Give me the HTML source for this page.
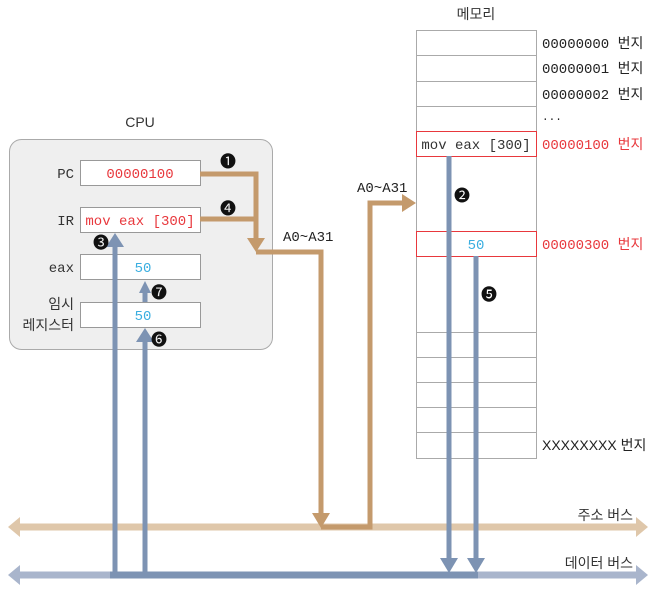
<!DOCTYPE html>
<html><head><meta charset="utf-8"><style>
body{margin:0;background:#fff;}
svg text{font-family:"Liberation Mono","Noto Sans CJK KR",monospace;}
.k{font-family:"Liberation Sans","Noto Sans CJK KR",sans-serif;}
</style></head><body>
<svg width="655" height="594" viewBox="0 0 655 594" xmlns="http://www.w3.org/2000/svg">
<!-- CPU -->
<text x="140" y="127" font-size="14" text-anchor="middle" class="k" fill="#333">CPU</text>
<rect x="9.5" y="139.5" width="263" height="210" rx="12" fill="#efefef" stroke="#aaa"/>
<g fill="#fff" stroke="#999">
<rect x="80.5" y="160.5" width="120" height="25"/>
<rect x="80.5" y="207.5" width="120" height="25"/>
<rect x="80.5" y="254.5" width="120" height="25"/>
<rect x="80.5" y="302.5" width="120" height="25"/>
</g>
<g font-size="14" fill="#333" text-anchor="end">
<text x="74" y="178">PC</text><text x="74" y="225">IR</text><text x="74" y="272">eax</text>
<text x="74" y="309" class="k">임시</text><text x="74" y="330" class="k">레지스터</text>
</g>
<text x="140" y="178" font-size="14" fill="#e8383d" text-anchor="middle">00000100</text>
<text x="140" y="225" font-size="14" fill="#e8383d" text-anchor="middle">mov eax [300]</text>
<text x="143" y="272" font-size="14" fill="#3aaee0" text-anchor="middle">50</text>
<text x="143" y="320" font-size="14" fill="#3aaee0" text-anchor="middle">50</text>
<!-- Memory -->
<text x="476" y="19" font-size="14" class="k" fill="#333" text-anchor="middle">메모리</text>
<rect x="416.5" y="30.5" width="120" height="428" fill="#fff" stroke="#aaa"/>
<g stroke="#aaa">
<line x1="416" y1="55.5" x2="536" y2="55.5"/><line x1="416" y1="81.5" x2="536" y2="81.5"/><line x1="416" y1="106.5" x2="536" y2="106.5"/>
<line x1="416" y1="332.5" x2="536" y2="332.5"/><line x1="416" y1="357.5" x2="536" y2="357.5"/><line x1="416" y1="382.5" x2="536" y2="382.5"/><line x1="416" y1="407.5" x2="536" y2="407.5"/><line x1="416" y1="432.5" x2="536" y2="432.5"/>
</g>
<rect x="416.5" y="131.5" width="120" height="25" fill="#fff" stroke="#e8383d"/>
<rect x="416.5" y="231.5" width="120" height="25" fill="#fff" stroke="#e8383d"/>
<text x="476" y="149" font-size="14" fill="#333" text-anchor="middle">mov eax [300]</text>
<text x="476" y="249" font-size="14" fill="#3aaee0" text-anchor="middle">50</text>
<g font-size="14" fill="#222">
<text x="542" y="48">00000000 <tspan class="k">번지</tspan></text>
<text x="542" y="73">00000001 <tspan class="k">번지</tspan></text>
<text x="542" y="99">00000002 <tspan class="k">번지</tspan></text>
<text x="542" y="120" font-size="11">...</text>
<text x="542" y="149" fill="#e8383d">00000100 <tspan class="k">번지</tspan></text>
<text x="542" y="249" fill="#e8383d">00000300 <tspan class="k">번지</tspan></text>
<text x="542" y="450" class="k">XXXXXXXX 번지</text>
</g>
<!-- buses -->
<line x1="18" y1="527" x2="638" y2="527" stroke="#dfc7aa" stroke-width="7"/>
<polygon points="8,527 20,517 20,537" fill="#dfc7aa"/><polygon points="648,527 636,517 636,537" fill="#dfc7aa"/>
<line x1="18" y1="575" x2="638" y2="575" stroke="#a9b5cc" stroke-width="7"/>
<polygon points="8,575 20,565 20,585" fill="#a9b5cc"/><polygon points="648,575 636,565 636,585" fill="#a9b5cc"/>
<line x1="110" y1="575" x2="478" y2="575" stroke="#7d93b3" stroke-width="7"/>
<text x="633" y="520" font-size="14" class="k" fill="#333" text-anchor="end">주소 버스</text>
<text x="633" y="568" font-size="14" class="k" fill="#333" text-anchor="end">데이터 버스</text>
<!-- brown paths -->
<g fill="none" stroke="#c49a6c" stroke-width="5">
<polyline points="200,174 256,174 256,240"/>
<polyline points="200,219 256,219"/>
<polyline points="256,252 321,252 321,516"/>
<polyline points="321,527 370,527 370,203 404,203"/>
</g>
<polygon points="247,238 265,238 256,252" fill="#c49a6c"/>
<polygon points="312,513 330,513 321,528" fill="#c49a6c"/>
<polygon points="402,194 402,212 416,203" fill="#c49a6c"/>
<!-- blue paths -->
<g stroke="#7d93b3" stroke-width="5">
<line x1="115" y1="575" x2="115" y2="245"/>
<line x1="145" y1="575" x2="145" y2="342"/>
<line x1="145" y1="302" x2="145" y2="292"/>
<line x1="449" y1="156" x2="449" y2="560"/>
<line x1="476" y1="256" x2="476" y2="560"/>
</g>
<polygon points="106,247 124,247 115,233" fill="#7d93b3"/>
<polygon points="136,342 154,342 145,328" fill="#7d93b3"/>
<polygon points="139,293 151,293 145,281" fill="#7d93b3"/>
<polygon points="440,558 458,558 449,573" fill="#7d93b3"/>
<polygon points="467,558 485,558 476,573" fill="#7d93b3"/>
<!-- numbers -->
<g font-size="16" class="k" fill="#111" text-anchor="middle">
<text x="228" y="167">❶</text><text x="228" y="214">❹</text><text x="101" y="248">❸</text>
<text x="159" y="298">❼</text><text x="159" y="345">❻</text><text x="462" y="201">❷</text><text x="489" y="300">❺</text>
</g>
<text x="283" y="241" font-size="14" fill="#222">A0~A31</text>
<text x="357" y="192" font-size="14" fill="#222">A0~A31</text>
</svg>
</body></html>
